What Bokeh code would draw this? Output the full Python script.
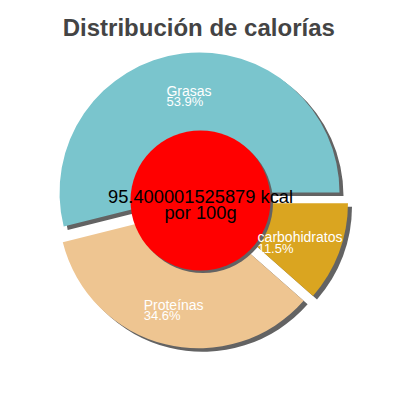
import math
from bokeh.plotting import figure
from bokeh.models import Range1d
from bokeh.core.properties import value
from bokeh.embed import file_html
from bokeh.resources import INLINE

# ---- data ----
title = "Distribución de calorías"
categories = ["Grasas", "Proteínas", "carbohidratos"]
percents = [53.9, 34.6, 11.5]
colors = ["#7AC5CD", "#EEC591", "#DAA520"]
energy_kcal = "95.400001525879"
center_lines = [energy_kcal + " kcal", "por 100g"]

# ---- layout / style ----
W = H = 384
CX, CY = 200.0, 200.0          # pie centre in page-pixel units (y up)
R = 140.0                       # pie radius
EXPLODE = 8.0                   # slice offset along mid-angle
SH_DX, SH_DY = 4.0, -3.5        # shadow offset
INNER_R = 70.0
LABEL_D = 109.0
FONT = "Liberation Sans"

p = figure(width=W, height=H, output_backend="svg", toolbar_location=None,
           x_range=Range1d(0, 384), y_range=Range1d(16, 400),
           x_axis_type=None, y_axis_type=None, min_border=0)
p.grid.visible = False
p.outline_line_color = None
p.background_fill_color = "white"
p.border_fill_color = "white"

total = sum(percents)
starts, ends, xs, ys = [], [], [], []
lab_x, lab_y = [], []
a = 0.0
for pc in percents:
    s = a
    e = a + pc / total * 2 * math.pi
    mid = (s + e) / 2
    starts.append(s)
    ends.append(e)
    xs.append(CX + EXPLODE * math.cos(mid))
    ys.append(CY + EXPLODE * math.sin(mid))
    lab_x.append(CX + LABEL_D * math.cos(mid))
    lab_y.append(CY + LABEL_D * math.sin(mid))
    a = e

# shadows
p.wedge(x=[x + SH_DX for x in xs], y=[y + SH_DY for y in ys], radius=R,
        start_angle=starts, end_angle=ends, fill_color="#636363",
        line_color=None)
# slices
p.wedge(x=xs, y=ys, radius=R, start_angle=starts, end_angle=ends,
        fill_color=colors, line_color=None)

# centre disc with shadow
p.circle(x=[CX + 2.5], y=[CY - 2.5], radius=INNER_R, fill_color="#636363",
         line_color=None)
p.circle(x=[CX], y=[CY], radius=INNER_R, fill_color="#FF0000", line_color=None)

# slice labels (left-aligned block centred on the label point)
pct_txt = [f"{v:.1f}%" for v in percents]
CHAR_W = 6.9
left_x = [lx - max(len(n), len(t)) * CHAR_W / 2
          for lx, n, t in zip(lab_x, categories, pct_txt)]
p.text(x=left_x, y=[ly + 1.7 for ly in lab_y], text=categories,
       text_font=value(FONT), text_font_size="14px", text_color="white",
       text_align="left", text_baseline="alphabetic")
p.text(x=left_x, y=[ly - 9.5 for ly in lab_y], text=pct_txt,
       text_font=value(FONT), text_font_size="13px", text_color="white",
       text_align="left", text_baseline="alphabetic")

# centre text
p.text(x=[CX, CX], y=[CY + 4.3, CY - 11.7], text=center_lines,
       text_font=value(FONT), text_font_size="18.3px", text_color="black",
       text_align="center", text_baseline="alphabetic")

# title
p.text(x=[198.3], y=[373.3], text=[title], text_font=value(FONT),
       text_font_size="24px", text_font_style="bold", text_color="#444444",
       text_align="center", text_baseline="alphabetic")

open("out.html", "w").write(file_html(p, INLINE))
